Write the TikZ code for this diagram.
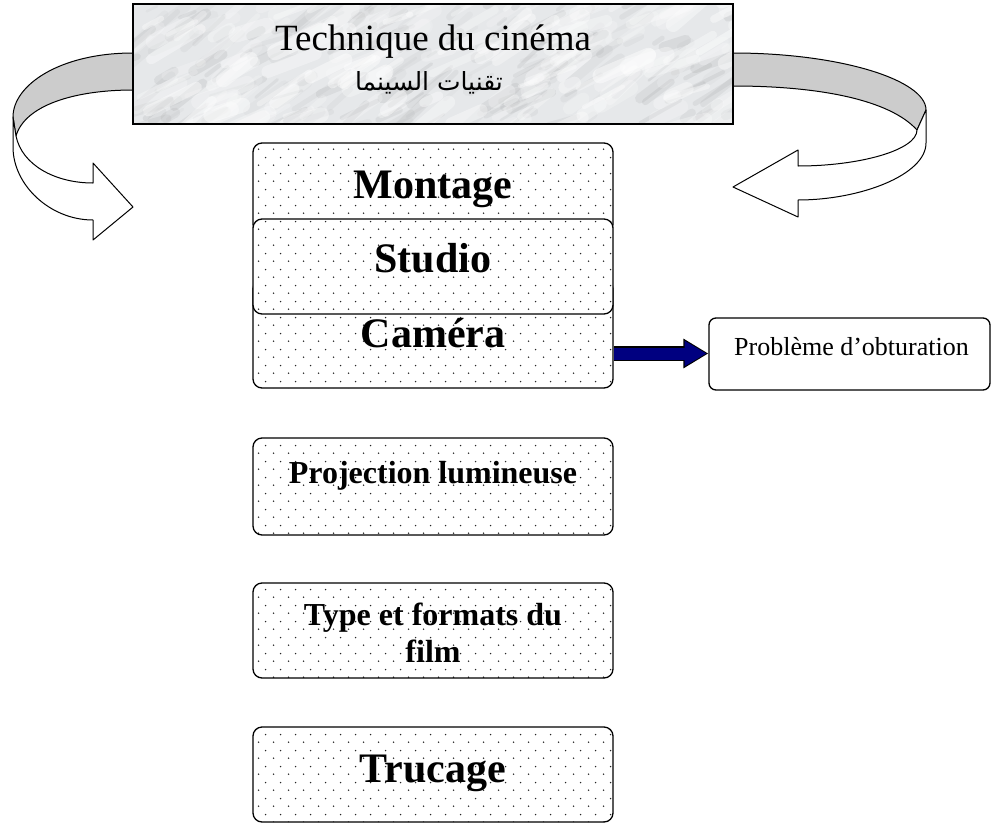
\documentclass[tikz,border=0pt]{standalone}
\usepackage{fontspec}
\setmainfont{Liberation Serif}
\newfontfamily\arabicfont[Script=Arabic]{DejaVu Sans}
\TeXXeTstate=1
\usetikzlibrary{patterns.meta, arrows.meta, calc}
\definecolor{navyblue}{HTML}{000080}
\definecolor{ribbongray}{HTML}{CCCCCC}
\definecolor{marblebase}{RGB}{230,232,234}
\pgfdeclarepattern{name=boxdots, type=uncolored,
  bottom left={\pgfpoint{0pt}{0pt}}, top right={\pgfpoint{15pt}{16pt}},
  tile size={\pgfpoint{15pt}{16pt}},
  code={\pgfpathcircle{\pgfpoint{3.75pt}{4pt}}{0.85pt}
        \pgfpathcircle{\pgfpoint{11.25pt}{12pt}}{0.85pt}\pgfusepath{fill}}}
\tikzset{
  dotbox/.style={draw=black, line width=1.3pt, rounded corners=9pt,
    preaction={fill=white}, pattern=boxdots, pattern color=black!85,
    minimum width=360pt, inner sep=0pt},
  bigbold/.style={font=\fontsize{42}{48}\selectfont\bfseries, inner sep=0pt},
  midbold/.style={font=\fontsize{32}{37}\selectfont\bfseries, inner sep=0pt, align=center},
  ribbonline/.style={draw=black, line width=1pt, line join=round},
}
\begin{document}
\begin{tikzpicture}[x=1pt, y=-1pt]
\useasboundingbox (0,0) rectangle (991,825);

% left ribbon arrow
\filldraw[ribbonline, fill=ribbongray] (133,53) .. controls (60,53) and (13,85) .. (13,117)
  -- (16,136) .. controls (25,105) and (75,90) .. (133,90) -- cycle;
\filldraw[ribbonline, fill=white] (13,117) -- (13,147) .. controls (13,185) and (50,220) .. (93,220)
  -- (93,240) -- (133,207) -- (93,163) -- (93,183)
  .. controls (55,183) and (22,165) .. (16,136) -- cycle;

% right ribbon arrow
\filldraw[ribbonline, fill=ribbongray] (733,53) .. controls (840,53) and (926,80) .. (926,110)
  -- (917,130) .. controls (890,100) and (820,86) .. (733,86) -- cycle;
\filldraw[ribbonline, fill=white] (926,110) -- (926,143) .. controls (926,175) and (860,200) .. (798,200)
  -- (798,217) -- (733,187) -- (798,150) -- (798,166)
  .. controls (860,166) and (917,150) .. (917,130) -- cycle;

% title box with marble texture
\node[minimum width=600pt, minimum height=120pt, inner sep=0pt, outer sep=0pt] (title) at (433,64) {};
\begin{scope}
  \clip (title.north west) rectangle (title.south east);
  \fill[marblebase] (title.north west) rectangle (title.south east);
  \pgfmathsetseed{23}
  \foreach \i in {1,...,200}{
    \pgfmathsetmacro{\xa}{120+620*rnd}
    \pgfmathsetmacro{\ya}{-5+140*rnd}
    \pgfmathsetmacro{\len}{8+45*rnd}
    \pgfmathsetmacro{\wd}{2+9*rnd}
    \pgfmathsetmacro{\op}{0.03+0.08*rnd}
    \pgfmathsetmacro{\ang}{15+30*rnd}
    \pgfmathsetmacro{\dx}{cos(\ang)*\len}
    \pgfmathsetmacro{\dy}{-sin(\ang)*\len}
    \draw[line width=\wd pt, line cap=round, black!60, opacity=\op] (\xa,\ya) -- ++(\dx,\dy);
  }
  \foreach \i in {1,...,180}{
    \pgfmathsetmacro{\xa}{120+620*rnd}
    \pgfmathsetmacro{\ya}{-5+140*rnd}
    \pgfmathsetmacro{\len}{10+50*rnd}
    \pgfmathsetmacro{\wd}{4+12*rnd}
    \pgfmathsetmacro{\op}{0.15+0.3*rnd}
    \pgfmathsetmacro{\ang}{15+30*rnd}
    \pgfmathsetmacro{\dx}{cos(\ang)*\len}
    \pgfmathsetmacro{\dy}{-sin(\ang)*\len}
    \draw[line width=\wd pt, line cap=round, white, opacity=\op] (\xa,\ya) -- ++(\dx,\dy);
  }
\end{scope}
\draw[line width=1.6pt] (title.north west) rectangle (title.south east);
\node[font=\fontsize{37}{42}\selectfont, anchor=base, inner sep=0pt] (titlefr) at (433,50) {Technique du cinéma};
\node[font=\fontsize{25}{30}\selectfont\arabicfont, anchor=base, inner sep=0pt] (titlear) at (429,90) {\beginR تقنيات السينما\endR};

% stacked boxes
\node[dotbox, minimum height=90pt] (montage) at (433,188) {};
\node[dotbox, minimum height=108pt] (camera) at (433,334) {};
\node[dotbox, minimum height=95pt] (studio) at (433,266.5) {};
\node[bigbold, anchor=base] (montaget) at (433,198) {Montage};
\node[bigbold, anchor=base] (studiot) at (433,272) {Studio};
\node[bigbold, anchor=base] (camerat) at (433,347) {Caméra};

\node[dotbox, minimum height=97pt] (projection) at (433,486.5) {};
\node[midbold, anchor=base] (projectiont) at (433,483) {Projection lumineuse};

\node[dotbox, minimum height=95pt] (type) at (433,630.5) {};
\node[midbold] (typet) at (433,632.5) {Type et formats du\\film};

\node[dotbox, minimum height=95pt] (trucage) at (433,774.5) {};
\node[bigbold, anchor=base] (trucaget) at (433,782) {Trucage};

% problem box
\node[draw=black, line width=1.3pt, rounded corners=7pt, fill=white,
      minimum width=281pt, minimum height=72pt, inner sep=0pt] (prob) at (849.5,354) {};
\node[font=\fontsize{26}{30}\selectfont, anchor=base, inner sep=0pt] (probt) at (851.5,355) {Problème d’obturation};

% blue block arrow
\draw[line width=15pt, black, -{Triangle[length=25pt 0 0, width=28pt 0 0]}]
  ([yshift=-19.5pt]camera.east) -- ([yshift=0.5pt]prob.west);
\draw[line width=12pt, navyblue, shorten >=1.8pt, -{Triangle[length=22pt 0 0, width=24pt 0 0]}]
  ([yshift=-19.5pt]camera.east) -- ([yshift=0.5pt]prob.west);
\end{tikzpicture}
\end{document}
